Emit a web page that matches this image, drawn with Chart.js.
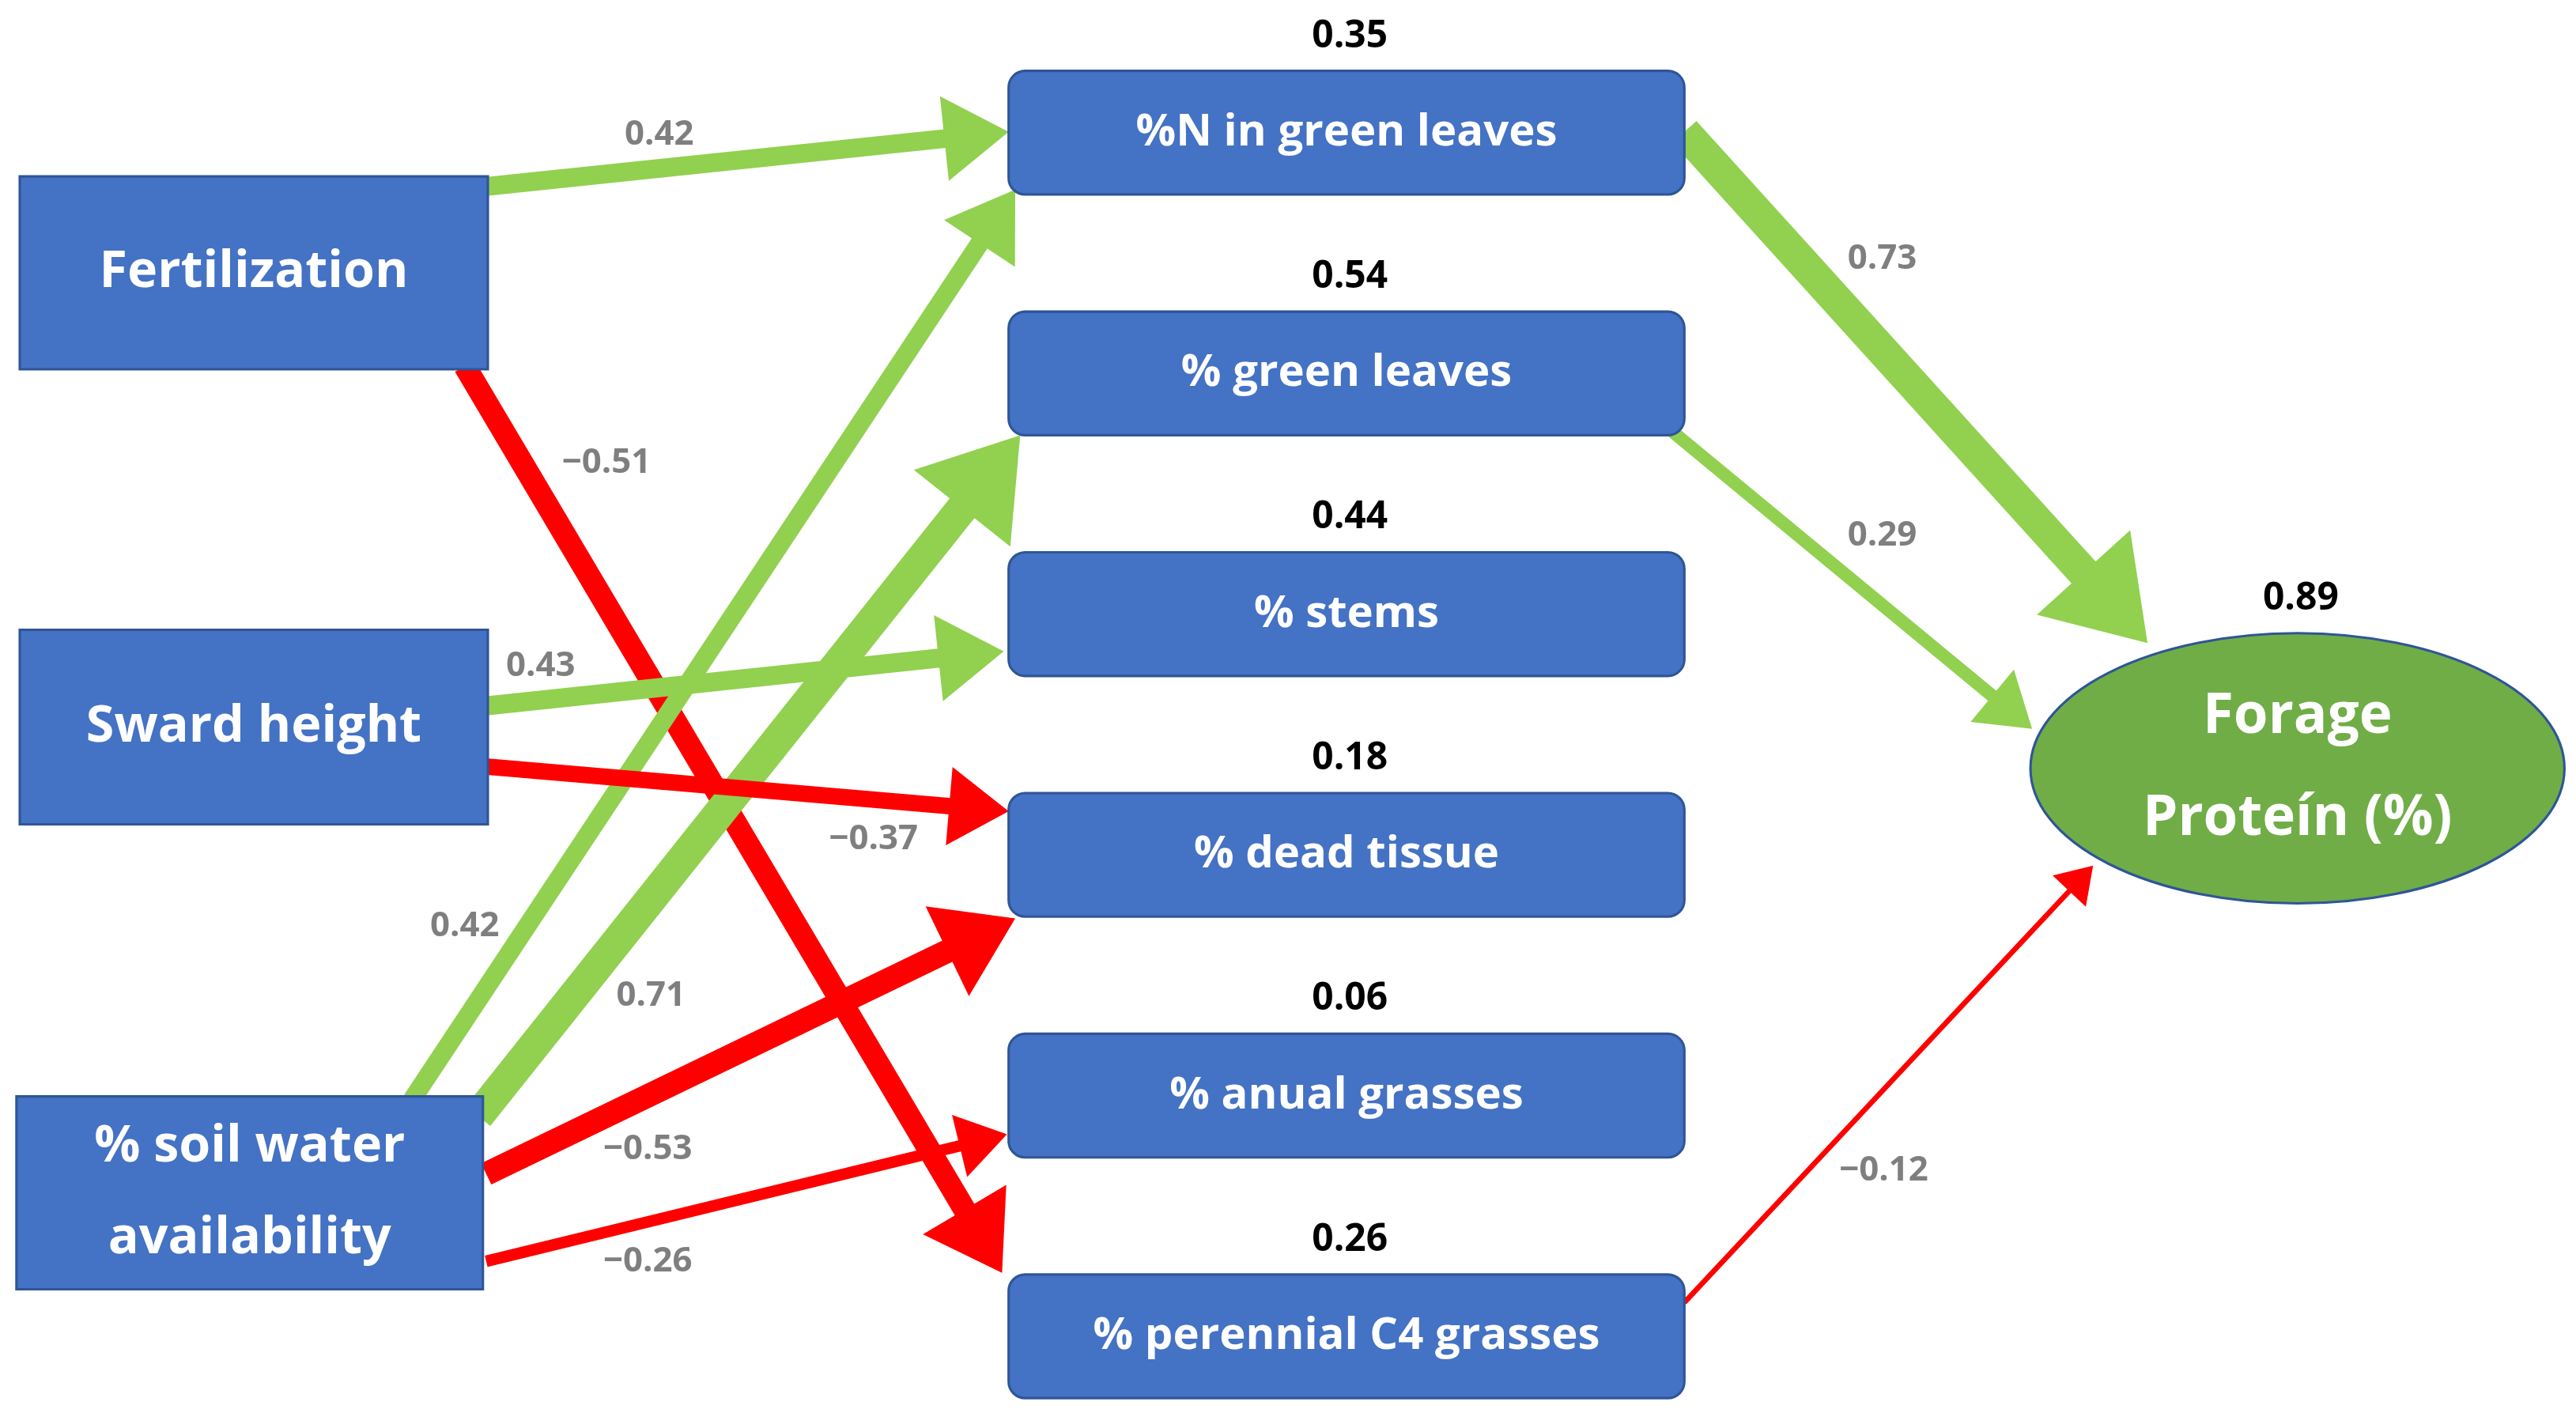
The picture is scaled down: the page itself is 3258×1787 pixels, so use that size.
<!DOCTYPE html>
<html>
<head>
<meta charset="utf-8">
<script src="https://cdn.jsdelivr.net/npm/chart.js@4"></script>
<style>
  html, body { margin: 0; padding: 0; background: #fff; }
  #wrap { width: 3258px; height: 1787px; }
</style>
</head>
<body>
<div id="wrap"><canvas id="graphCanvas"></canvas></div>
<script>
// data
var nodeNames = ['Fertilization', 'Sward height', '% soil water\navailability',
  '%N in green leaves', '% green leaves', '% stems', '% dead tissue',
  '% anual grasses', '% perennial C4 grasses', 'Forage\nProteín (%)'];
var r2Values = [null, null, null, 0.35, 0.54, 0.44, 0.18, 0.06, 0.26, 0.89];
var edgeFrom = [0, 0, 2, 2, 1, 1, 2, 2, 3, 4, 8];
var edgeTo   = [3, 8, 3, 4, 5, 6, 6, 7, 9, 9, 9];
var coefs    = [0.42, -0.51, 0.42, 0.71, 0.43, -0.37, -0.53, -0.26, 0.73, 0.29, -0.12];

// layout (axis units, 1563 x 857 grid)
var nodeBox = [
  [12, 107, 284, 117], [12, 382, 284, 118], [10, 665, 283, 117],
  [612, 43, 410, 75], [612, 189, 410, 75], [612, 335, 410, 75],
  [612, 481, 410, 75], [612, 627, 410, 75], [612, 773, 410, 75],
  [1232, 384, 324, 164]
];
var edgeStart = [[296,113],[282,222],[250,667],[290,677],[296,428],[296,465],[295,712],[295,765],[1022,80],[1015,262],[1022,790]];
var edgeEnd   = [[612,80],[608,772],[616,115],[619,264],[609,395],[612,492],[616,557],[611,688],[1303,390],[1233,442],[1270,525]];
var labelPos  = [[400,82],[368,281],[282,562],[395,604],[328,404],[530,509],[393,697],[393,765],[1142,157],[1142,325],[1143,710]];

var GREEN = '#92D050', RED = '#FF0000', BLUE = '#4472C4';

var pathPlugin = {
  id: 'pathDiagram',
  afterDatasetsDraw: function (chart) {
    var ctx = chart.ctx, sx = chart.scales.x, sy = chart.scales.y;
    var k = (sx.getPixelForValue(1563) - sx.getPixelForValue(0)) / 1563;
    function X(v) { return sx.getPixelForValue(v); }
    function Y(v) { return sy.getPixelForValue(v); }

    // arrows
    for (var i = 0; i < coefs.length; i++) {
      var w = Math.max(2, Math.abs(coefs[i]) * 27) * k;
      var x1 = X(edgeStart[i][0]), y1 = Y(edgeStart[i][1]);
      var x2 = X(edgeEnd[i][0]), y2 = Y(edgeEnd[i][1]);
      var ang = Math.atan2(y2 - y1, x2 - x1);
      var hl = (Math.abs(coefs[i]) * 60 + 14) * k;
      var hw = (Math.abs(coefs[i]) * 40 + 9) * k;
      var col = coefs[i] < 0 ? RED : GREEN;
      ctx.save();
      ctx.strokeStyle = col; ctx.fillStyle = col;
      ctx.lineWidth = w;
      ctx.beginPath();
      ctx.moveTo(x1, y1);
      ctx.lineTo(x2 - Math.cos(ang) * hl * 0.9, y2 - Math.sin(ang) * hl * 0.9);
      ctx.stroke();
      ctx.translate(x2, y2); ctx.rotate(ang);
      ctx.beginPath();
      ctx.moveTo(0, 0); ctx.lineTo(-hl, -hw); ctx.lineTo(-hl, hw);
      ctx.closePath(); ctx.fill();
      ctx.restore();
    }

    // nodes
    ctx.save();
    ctx.textAlign = 'center'; ctx.textBaseline = 'middle';
    for (var n = 0; n < nodeNames.length; n++) {
      var b = nodeBox[n];
      var bx = X(b[0]), by = Y(b[1]), bw = b[2] * k, bh = b[3] * k;
      var fs;
      if (n === 9) {
        ctx.beginPath();
        ctx.ellipse(bx + bw / 2, by + bh / 2, bw / 2, bh / 2, 0, 0, Math.PI * 2);
        ctx.fillStyle = '#70AD47'; ctx.fill();
        ctx.lineWidth = 1.5 * k; ctx.strokeStyle = '#2F5597'; ctx.stroke();
        fs = 34;
      } else {
        ctx.beginPath();
        if (n >= 3) ctx.roundRect(bx, by, bw, bh, 10 * k); else ctx.rect(bx, by, bw, bh);
        ctx.fillStyle = BLUE; ctx.fill();
        ctx.lineWidth = 1.5 * k; ctx.strokeStyle = '#2F5597'; ctx.stroke();
        fs = n < 3 ? 31 : 27;
      }
      ctx.fillStyle = '#fff';
      ctx.font = 'bold ' + (fs * k) + 'px "Open Sans"';
      var lines = nodeNames[n].split('\n');
      var lh = (n === 9 ? 62 : 56) * k;
      for (var l = 0; l < lines.length; l++) {
        ctx.fillText(lines[l], bx + bw / 2, by + bh / 2 + (l - (lines.length - 1) / 2) * lh);
      }
      if (r2Values[n] !== null) {
        ctx.fillStyle = '#000';
        ctx.font = 'bold ' + (23 * k) + 'px "Open Sans"';
        ctx.fillText(r2Values[n].toFixed(2), bx + bw / 2 + 2 * k, by - 21 * k);
      }
    }

    // coefficient labels
    ctx.fillStyle = '#7F7F7F';
    ctx.font = 'bold ' + (21 * k) + 'px "Open Sans"';
    for (var j = 0; j < coefs.length; j++) {
      var t = coefs[j] < 0 ? '\u2212' + Math.abs(coefs[j]).toFixed(2) : coefs[j].toFixed(2);
      ctx.fillText(t, X(labelPos[j][0]), Y(labelPos[j][1]));
    }
    ctx.restore();
  }
};

var centers = nodeBox.map(function (b) { return { x: b[0] + b[2] / 2, y: b[1] + b[3] / 2 }; });

new Chart(document.getElementById('graphCanvas'), {
  type: 'scatter',
  data: { datasets: [{ data: centers, pointRadius: 0, pointHoverRadius: 0 }] },
  options: {
    responsive: true, maintainAspectRatio: false, animation: false,
    layout: { padding: 0 },
    plugins: { legend: { display: false }, tooltip: { enabled: false } },
    scales: {
      x: { type: 'linear', min: 0, max: 1563, display: false },
      y: { type: 'linear', min: 0, max: 857, reverse: true, display: false }
    }
  },
  plugins: [pathPlugin]
});
</script>
</body>
</html>
